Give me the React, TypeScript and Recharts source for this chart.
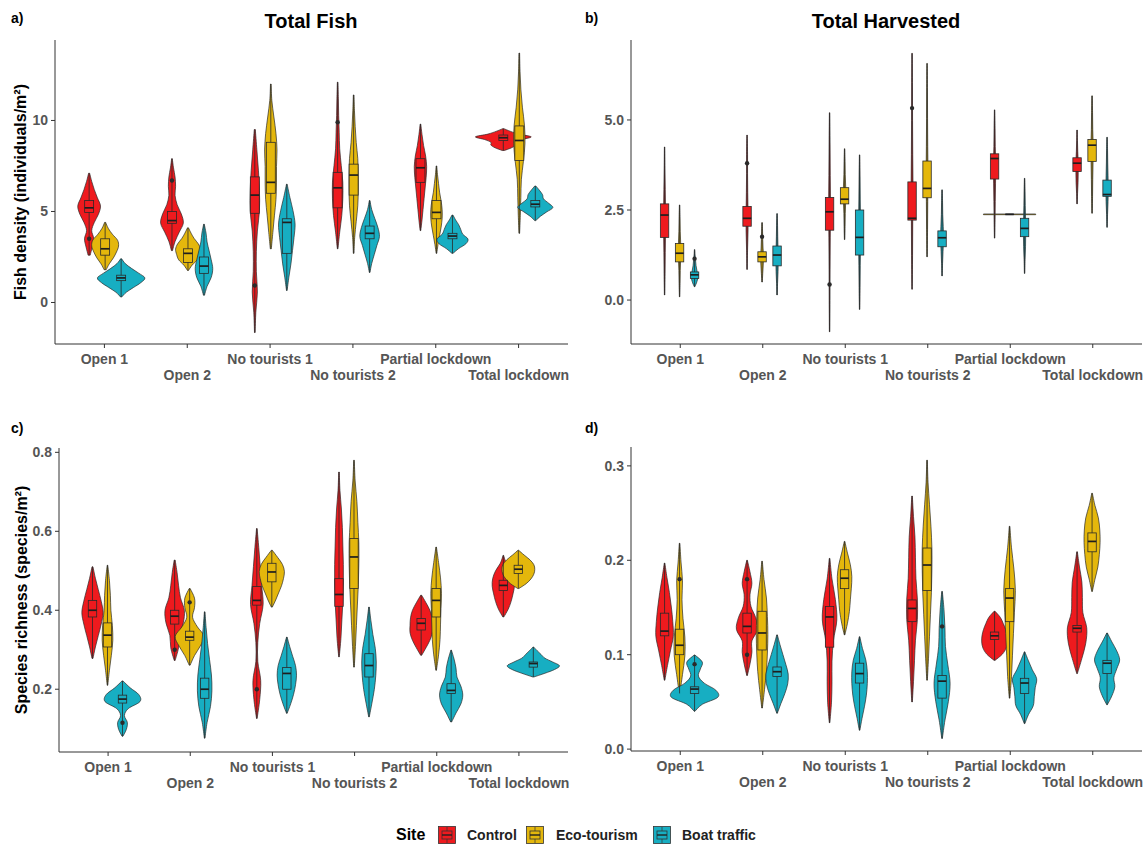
import React from "react";
import { BarChart, Bar, XAxis, YAxis } from "recharts";

type Violin = {
  lo: number;
  hi: number;
  q1: number;
  med: number;
  q3: number;
  out?: number[];
  dens: number[]; // violin half-widths, evenly spaced from lo to hi
};

const CATEGORIES = ["Open 1", "Open 2", "No tourists 1", "No tourists 2", "Partial lockdown", "Total lockdown"];
const SITES = ["Control", "Eco-tourism", "Boat traffic"];
const SITE_COLORS = ["#EE1A1E", "#E4B70C", "#17AEC2"];

// a) Total Fish
const fishControl: Violin[] = [
  { lo: 2.6, hi: 7.1, q1: 4.95, med: 5.2, q3: 5.6, out: [3.5], dens: [1, 3, 4.5, 2.5, 5, 9, 11, 8, 5, 2.5, 0.5] },
  { lo: 2.85, hi: 7.9, q1: 4.35, med: 4.5, q3: 5.0, out: [6.7], dens: [0.5, 3, 7, 11, 9, 5, 3, 3.5, 3, 1.5, 0.3] },
  { lo: -1.65, hi: 9.5, q1: 4.9, med: 5.9, q3: 6.9, out: [0.93], dens: [0.3, 1, 2.5, 1.5, 1.5, 2.5, 4.5, 4.5, 3.5, 2, 0.5] },
  { lo: 2.95, hi: 12.1, q1: 5.2, med: 6.3, q3: 7.15, out: [9.9], dens: [0.3, 2, 4, 5, 5, 3.5, 2, 1.5, 1, 0.7, 0.3] },
  { lo: 3.95, hi: 9.8, q1: 6.6, med: 7.4, q3: 7.9, dens: [0.3, 1.5, 2.5, 3.5, 4.5, 5.5, 6, 5, 3, 1.5, 0.3] },
  { lo: 8.35, hi: 9.55, q1: 8.9, med: 9.05, q3: 9.2, dens: [1, 8, 12, 12, 18, 27, 15, 7, 0.5] },
];
const fishEco: Violin[] = [
  { lo: 1.8, hi: 4.4, q1: 2.6, med: 2.95, q3: 3.5, dens: [1, 4, 8, 11, 13, 12, 7, 3, 0.5] },
  { lo: 1.76, hi: 4.1, q1: 2.2, med: 2.7, q3: 2.95, dens: [0.5, 4, 9, 11, 12, 10, 6, 3, 0.5] },
  { lo: 2.95, hi: 12.0, q1: 6.0, med: 6.6, q3: 8.8, dens: [0.5, 2, 3.5, 5, 5.5, 5.5, 6, 5, 3, 1, 0.3] },
  { lo: 2.7, hi: 11.4, q1: 5.9, med: 7.0, q3: 7.6, dens: [0.3, 1, 2.5, 4, 4.5, 4.5, 4, 2.5, 1.5, 0.8, 0.3] },
  { lo: 2.7, hi: 7.5, q1: 4.6, med: 4.95, q3: 5.6, dens: [0.3, 1.5, 3, 4.5, 5.5, 5.5, 4.5, 3, 2, 1, 0.3] },
  { lo: 3.8, hi: 13.7, q1: 7.8, med: 8.9, q3: 9.7, dens: [0.3, 1, 1.5, 2, 4, 5.5, 5, 3, 1.5, 0.7, 0.3] },
];
const fishBoat: Violin[] = [
  { lo: 0.3, hi: 2.4, q1: 1.2, med: 1.35, q3: 1.5, dens: [0.5, 5, 12, 19, 23, 17, 10, 4, 0.5] },
  { lo: 0.4, hi: 4.3, q1: 1.6, med: 2.0, q3: 2.5, dens: [0.5, 3, 7, 8.5, 7, 5, 3, 2, 0.3] },
  { lo: 0.66, hi: 6.5, q1: 2.7, med: 4.4, q3: 4.6, dens: [0.3, 2, 4, 5.5, 7, 8, 6, 3, 0.3] },
  { lo: 1.65, hi: 5.6, q1: 3.5, med: 3.8, q3: 4.2, dens: [0.3, 2, 4.5, 7, 9.5, 8, 5, 2, 0.3] },
  { lo: 2.7, hi: 4.8, q1: 3.5, med: 3.65, q3: 3.8, dens: [0.5, 6, 13, 15, 10, 8, 6, 3, 0.5] },
  { lo: 4.5, hi: 6.4, q1: 5.25, med: 5.4, q3: 5.6, dens: [0.5, 5, 11, 17, 13, 8, 7, 4, 0.5] },
];

// b) Total Harvested (violins nearly collapse to lines)
const harvControl: Violin[] = [
  { lo: 0.14, hi: 4.25, q1: 1.74, med: 2.36, q3: 2.67, dens: [0.2, 0.5, 0.7, 1, 1, 0.7, 0.4, 0.2] },
  { lo: 0.85, hi: 4.58, q1: 2.05, med: 2.27, q3: 2.6, out: [3.8], dens: [0.2, 0.5, 1, 1, 0.7, 0.5, 0.5, 0.2] },
  { lo: -0.88, hi: 5.2, q1: 1.94, med: 2.45, q3: 2.85, out: [0.43], dens: [0.2, 0.4, 0.5, 0.7, 1, 0.7, 0.5, 0.2] },
  { lo: 0.3, hi: 6.85, q1: 2.22, med: 2.27, q3: 3.28, out: [5.33], dens: [0.2, 0.5, 0.7, 1, 0.7, 0.5, 0.4, 0.2] },
  { lo: 1.72, hi: 5.28, q1: 3.36, med: 3.93, q3: 4.06, dens: [0.2, 0.5, 0.7, 1, 1.2, 0.7, 0.5, 0.2] },
  { lo: 2.67, hi: 4.72, q1: 3.57, med: 3.8, q3: 3.95, dens: [0.2, 0.5, 1, 1.2, 1.2, 0.7, 0.4, 0.2] },
];
const harvEco: Violin[] = [
  { lo: 0.09, hi: 2.64, q1: 1.06, med: 1.3, q3: 1.57, dens: [0.2, 0.5, 0.7, 1.2, 1.2, 0.7, 0.5, 0.2] },
  { lo: 0.5, hi: 2.15, q1: 1.06, med: 1.2, q3: 1.34, out: [1.76], dens: [0.2, 0.7, 1.2, 1.5, 1, 0.7, 0.5, 0.2] },
  { lo: 1.68, hi: 4.2, q1: 2.67, med: 2.8, q3: 3.12, dens: [0.2, 0.5, 0.7, 1.2, 1.2, 0.7, 0.5, 0.2] },
  { lo: 1.2, hi: 6.57, q1: 2.84, med: 3.1, q3: 3.86, dens: [0.2, 0.5, 0.7, 1, 0.7, 0.5, 0.4, 0.2] },
  { lo: 2.37, hi: 2.39, q1: 2.38, med: 2.38, q3: 2.38, dens: [27, 27] },
  { lo: 2.41, hi: 5.67, q1: 3.85, med: 4.3, q3: 4.46, dens: [0.2, 0.5, 0.7, 1, 1.2, 0.7, 0.5, 0.2] },
];
const harvBoat: Violin[] = [
  { lo: 0.37, hi: 1.4, q1: 0.6, med: 0.7, q3: 0.78, out: [1.15], dens: [0.3, 2.5, 3.5, 2.5, 1.5, 1, 0.5, 0.2] },
  { lo: 0.14, hi: 2.4, q1: 0.95, med: 1.25, q3: 1.5, dens: [0.2, 0.5, 1, 1.2, 1, 0.7, 0.5, 0.2] },
  { lo: -0.26, hi: 4.03, q1: 1.25, med: 1.74, q3: 2.5, dens: [0.2, 0.5, 0.7, 1, 1, 0.7, 0.5, 0.2] },
  { lo: 0.67, hi: 3.06, q1: 1.48, med: 1.73, q3: 1.92, dens: [0.2, 0.5, 1, 1.5, 1.2, 0.7, 0.5, 0.2] },
  { lo: 0.74, hi: 3.38, q1: 1.76, med: 1.99, q3: 2.27, dens: [0.2, 0.5, 1, 1.2, 1, 0.7, 0.5, 0.2] },
  { lo: 2.02, hi: 4.52, q1: 2.88, med: 2.93, q3: 3.33, dens: [0.2, 0.5, 1, 1.2, 1, 0.7, 0.5, 0.2] },
];

// c) Species richness, all fish
const richControl: Violin[] = [
  { lo: 0.278, hi: 0.51, q1: 0.383, med: 0.4, q3: 0.425, dens: [0.5, 3, 6, 9, 11, 9, 6, 3, 0.5] },
  { lo: 0.273, hi: 0.527, q1: 0.365, med: 0.385, q3: 0.4, out: [0.3], dens: [0.5, 4, 5, 9, 10, 6, 4, 2.5, 0.5] },
  { lo: 0.126, hi: 0.607, q1: 0.413, med: 0.425, q3: 0.46, out: [0.2], dens: [0.3, 3, 4, 1, 1, 3, 6.5, 5, 3.5, 2, 0.3] },
  { lo: 0.282, hi: 0.75, q1: 0.41, med: 0.44, q3: 0.48, dens: [0.3, 2, 3, 4, 4.5, 4.5, 4, 3.5, 2.5, 1, 0.3] },
  { lo: 0.286, hi: 0.438, q1: 0.35, med: 0.367, q3: 0.379, dens: [0.5, 5, 9, 11.5, 11.5, 11, 9, 5, 0.5] },
  { lo: 0.383, hi: 0.539, q1: 0.45, med: 0.463, q3: 0.476, dens: [0.5, 5, 8, 10, 11.5, 11, 8, 3, 0.3] },
];
const richEco: Violin[] = [
  { lo: 0.21, hi: 0.514, q1: 0.307, med: 0.337, q3: 0.368, dens: [0.3, 2, 4, 5.5, 5, 3.5, 3, 2, 0.3] },
  { lo: 0.261, hi: 0.455, q1: 0.324, med: 0.332, q3: 0.347, out: [0.42], dens: [0.5, 5, 11, 15, 8, 3, 5, 5, 0.5] },
  { lo: 0.408, hi: 0.552, q1: 0.472, med: 0.497, q3: 0.519, dens: [0.5, 4, 7, 10, 12, 13, 11, 6, 0.5] },
  { lo: 0.256, hi: 0.78, q1: 0.455, med: 0.535, q3: 0.582, dens: [0.3, 1.5, 2.5, 3.5, 4.5, 5, 5, 4, 3, 1.2, 0.3] },
  { lo: 0.248, hi: 0.56, q1: 0.383, med: 0.425, q3: 0.455, dens: [0.3, 2.5, 4, 4.5, 5, 5.5, 4.5, 2.5, 0.3] },
  { lo: 0.455, hi: 0.552, q1: 0.493, med: 0.504, q3: 0.514, dens: [0.5, 8, 13, 16, 17, 16, 12, 6, 0.3] },
];
const richBoat: Violin[] = [
  { lo: 0.081, hi: 0.221, q1: 0.165, med: 0.175, q3: 0.185, out: [0.115], dens: [0.5, 4, 5, 2, 6, 18, 17, 8, 0.5] },
  { lo: 0.076, hi: 0.396, q1: 0.177, med: 0.2, q3: 0.228, dens: [0.3, 2.5, 6, 7.5, 7, 5, 3, 1.5, 0.3] },
  { lo: 0.139, hi: 0.332, q1: 0.2, med: 0.24, q3: 0.255, dens: [0.3, 4, 7, 9, 10, 9, 6, 3, 0.3] },
  { lo: 0.13, hi: 0.408, q1: 0.231, med: 0.26, q3: 0.29, dens: [0.3, 3, 5.5, 7, 7.5, 6.5, 4, 2, 0.3] },
  { lo: 0.117, hi: 0.299, q1: 0.189, med: 0.197, q3: 0.214, dens: [0.5, 5, 10, 12, 10, 6, 5, 3, 0.3] },
  { lo: 0.231, hi: 0.307, q1: 0.256, med: 0.265, q3: 0.269, dens: [0.5, 12, 22, 27, 20, 12, 8, 4, 0.3] },
];

// d) Species richness, harvested
const hrichControl: Violin[] = [
  { lo: 0.073, hi: 0.197, q1: 0.12, med: 0.125, q3: 0.144, dens: [0.3, 3, 6, 9, 8.5, 7, 5, 2.5, 0.3] },
  { lo: 0.078, hi: 0.2, q1: 0.123, med: 0.13, q3: 0.144, out: [0.18, 0.1], dens: [0.3, 3, 5, 5, 11, 9, 4, 3, 5, 3, 0.3] },
  { lo: 0.028, hi: 0.202, q1: 0.108, med: 0.14, q3: 0.151, dens: [0.3, 2, 2.5, 2.5, 4, 7.5, 6, 2.5, 0.3] },
  { lo: 0.05, hi: 0.268, q1: 0.135, med: 0.149, q3: 0.158, dens: [0.3, 1.5, 2.5, 3.5, 5.5, 5.5, 4, 3.5, 3, 1.5, 0.3] },
  { lo: 0.094, hi: 0.146, q1: 0.116, med: 0.12, q3: 0.124, dens: [0.5, 8, 12, 13.3, 13, 11.5, 9, 6, 0.5] },
  { lo: 0.08, hi: 0.209, q1: 0.124, med: 0.128, q3: 0.131, dens: [0.3, 5, 9, 10, 6, 5.5, 5, 2.5, 0.3] },
];
const hrichEco: Violin[] = [
  { lo: 0.059, hi: 0.218, q1: 0.1, med: 0.11, q3: 0.127, out: [0.18], dens: [0.3, 3, 5.5, 5.5, 3.5, 2.5, 3, 1.5, 0.3] },
  { lo: 0.0435, hi: 0.199, q1: 0.105, med: 0.123, q3: 0.146, dens: [0.3, 2.5, 4.5, 5.5, 6, 5.5, 4.5, 2, 0.3] },
  { lo: 0.121, hi: 0.22, q1: 0.17, med: 0.181, q3: 0.19, dens: [0.3, 3, 5, 6, 7, 7.5, 6, 3, 0.3] },
  { lo: 0.073, hi: 0.306, q1: 0.168, med: 0.195, q3: 0.213, dens: [0.3, 1.5, 2.5, 3.5, 4.5, 5, 5, 4, 2.5, 1, 0.3] },
  { lo: 0.054, hi: 0.236, q1: 0.135, med: 0.16, q3: 0.17, dens: [0.3, 2, 3, 4, 5, 6, 4.5, 2, 0.3] },
  { lo: 0.167, hi: 0.271, q1: 0.209, med: 0.22, q3: 0.229, dens: [0.3, 3, 6, 7.5, 8.3, 8, 6.5, 3, 0.3] },
];
const hrichBoat: Violin[] = [
  { lo: 0.04, hi: 0.0997, q1: 0.059, med: 0.0636, q3: 0.066, out: [0.09], dens: [0.3, 8, 24, 22, 10, 4, 6, 8, 0.3] },
  { lo: 0.038, hi: 0.121, q1: 0.077, med: 0.082, q3: 0.087, dens: [0.3, 4, 8, 11, 11.5, 9, 6, 3, 0.3] },
  { lo: 0.02, hi: 0.119, q1: 0.07, med: 0.08, q3: 0.091, dens: [0.3, 2.5, 5, 7, 8, 8, 6.5, 3, 0.3] },
  { lo: 0.0113, hi: 0.167, q1: 0.054, med: 0.072, q3: 0.078, out: [0.13], dens: [0.3, 3, 6.5, 8.3, 6, 3.5, 3, 2, 0.3] },
  { lo: 0.027, hi: 0.103, q1: 0.059, med: 0.07, q3: 0.075, dens: [0.3, 4, 9, 10, 11, 12.5, 8, 4, 0.3] },
  { lo: 0.047, hi: 0.123, q1: 0.08, med: 0.091, q3: 0.094, dens: [0.3, 5, 8, 7, 10, 13, 10, 5, 0.3] },
];

const FONT = "'Liberation Sans', Arial, Helvetica, sans-serif";
const AXIS_COLOR = "#333";
const TICK_COLOR = "#555";
const DENS_REF = 15.5; // density half-widths are in px for a 15.5px dodge step

const PANELS = [
  { id: "a", series: [fishControl, fishEco, fishBoat], domain: [-2.28, 14.42], ticks: [0, 5, 10], digits: 0, left: 0, top: 0, x0: 55, x1: 568, y0: 40, y1: 344 },
  { id: "b", series: [harvControl, harvEco, harvBoat], domain: [-1.22, 7.22], ticks: [0, 2.5, 5], digits: 1, left: 575, top: 0, x0: 631, x1: 1142, y0: 40, y1: 344 },
  { id: "c", series: [richControl, richEco, richBoat], domain: [0.041, 0.811], ticks: [0.2, 0.4, 0.6, 0.8], digits: 1, left: 0, top: 400, x0: 59, x1: 568, y0: 448, y1: 752 },
  { id: "d", series: [hrichControl, hrichEco, hrichBoat], domain: [-0.002, 0.32], ticks: [0, 0.1, 0.2, 0.3], digits: 1, left: 575, top: 400, x0: 631, x1: 1142, y0: 447, y1: 751 },
];

function curveThrough(pts: number[][]): string {
  let d = "";
  for (let i = 0; i < pts.length - 1; i++) {
    const p0 = pts[Math.max(i - 1, 0)];
    const p1 = pts[i];
    const p2 = pts[i + 1];
    const p3 = pts[Math.min(i + 2, pts.length - 1)];
    const c1x = p1[0] + (p2[0] - p0[0]) / 6;
    const c1y = p1[1] + (p2[1] - p0[1]) / 6;
    const c2x = p2[0] - (p3[0] - p1[0]) / 6;
    const c2y = p2[1] - (p3[1] - p1[1]) / 6;
    d += ` C${c1x},${c1y} ${c2x},${c2y} ${p2[0]},${p2[1]}`;
  }
  return d;
}

// maps a value inside the bar's [lo, hi] range onto the pixel span the y scale gave the bar
function valueToY(props: any, v: Violin) {
  const top = Math.min(props.y, props.y + props.height);
  const bottom = Math.max(props.y, props.y + props.height);
  return (val: number) => (v.hi === v.lo ? top : bottom - ((val - v.lo) / (v.hi - v.lo)) * (bottom - top));
}

function pickViolin(props: any, stats: Violin[]): Violin | undefined {
  const i = CATEGORIES.indexOf(props.payload?.cat);
  return stats[i >= 0 ? i : props.index];
}

function violinShape(stats: Violin[], color: string) {
  return (props: any) => {
    const v = pickViolin(props, stats);
    if (!v) return <g />;
    const yOf = valueToY(props, v);
    const cx = props.x + props.width / 2;
    const k = props.width / DENS_REF;
    const n = v.dens.length;
    const levels = v.dens.map((h, j) => ({ y: yOf(v.lo + (j * (v.hi - v.lo)) / (n - 1)), h: h * k }));
    const right = levels.slice().reverse().map((p) => [cx + p.h, p.y]);
    const left = levels.map((p) => [cx - p.h, p.y]);
    const d = `M${right[0][0]},${right[0][1]}` + curveThrough(right) + ` L${left[0][0]},${left[0][1]}` + curveThrough(left) + " Z";
    return <path d={d} fill={color} stroke="#2a2a2a" strokeWidth={0.7} strokeLinejoin="round" />;
  };
}

function boxShape(stats: Violin[], color: string) {
  return (props: any) => {
    const v = pickViolin(props, stats);
    if (!v) return <g />;
    const yOf = valueToY(props, v);
    const cx = props.x + props.width / 2;
    const bw = props.width * 0.56;
    const yq3 = yOf(v.q3);
    const yq1 = yOf(v.q1);
    return (
      <g>
        <line x1={cx} x2={cx} y1={yOf(v.hi)} y2={yOf(v.lo)} stroke="#2a2a2a" strokeWidth={0.8} />
        <rect x={cx - bw / 2} y={yq3} width={bw} height={Math.max(yq1 - yq3, 0.1)} fill={color} stroke="#2a2a2a" strokeWidth={0.8} />
        <line x1={cx - bw / 2} x2={cx + bw / 2} y1={yOf(v.med)} y2={yOf(v.med)} stroke="#1e1e1e" strokeWidth={1.7} />
        {(v.out ?? []).map((o, j) => (
          <circle key={j} cx={cx} cy={yOf(o)} r={2.2} fill="#2a2a2a" />
        ))}
      </g>
    );
  };
}

function StaggerTick(props: any) {
  const { x, y, payload } = props;
  const idx = payload?.index ?? props.index ?? 0;
  return (
    <text
      x={x}
      y={y + (idx % 2 ? 27 : 11)}
      textAnchor="middle"
      dominantBaseline="central"
      fill={TICK_COLOR}
      fontSize={14}
      fontWeight="bold"
      fontFamily={FONT}
    >
      {payload.value}
    </text>
  );
}

function Panel({ cfg }: { cfg: (typeof PANELS)[number] }) {
  const data = CATEGORIES.map((cat, i) => {
    const row: Record<string, unknown> = { cat };
    SITES.forEach((s, si) => {
      const v = cfg.series[si][i];
      row[s] = [v.lo, v.hi];
    });
    return row;
  });
  const width = cfg.x1 + 6 - cfg.left;
  const height = cfg.y1 + 56 - cfg.top;
  const xAxisCommon = {
    dataKey: "cat",
    type: "category" as const,
    interval: 0,
    padding: { left: 8, right: 8 },
  };
  return (
    <div style={{ position: "absolute", left: cfg.left, top: cfg.top }}>
      <BarChart
        width={width}
        height={height}
        data={data}
        margin={{ top: cfg.y0 - cfg.top, right: 6, left: 0, bottom: 0 }}
        barCategoryGap="21.9%"
        barGap={0}
      >
        <XAxis
          {...xAxisCommon}
          height={56}
          axisLine={{ stroke: AXIS_COLOR, strokeWidth: 1 }}
          tickLine={{ stroke: AXIS_COLOR, strokeWidth: 1 }}
          tickSize={4}
          tickMargin={0}
          tick={<StaggerTick />}
        />
        <XAxis {...xAxisCommon} xAxisId="box" hide />
        <YAxis
          type="number"
          domain={cfg.domain}
          ticks={cfg.ticks}
          allowDataOverflow
          width={cfg.x0 - cfg.left}
          axisLine={{ stroke: AXIS_COLOR, strokeWidth: 1 }}
          tickLine={{ stroke: AXIS_COLOR, strokeWidth: 1 }}
          tickSize={4}
          tickMargin={3}
          tickFormatter={(t: number) => t.toFixed(cfg.digits)}
          tick={{ fill: TICK_COLOR, fontSize: 14, fontWeight: "bold", fontFamily: FONT }}
        />
        {SITES.map((s, si) => (
          <Bar key={s} dataKey={s} isAnimationActive={false} shape={violinShape(cfg.series[si], SITE_COLORS[si])} />
        ))}
        {SITES.map((s, si) => (
          <Bar
            key={s + "-box"}
            dataKey={s}
            xAxisId="box"
            isAnimationActive={false}
            shape={boxShape(cfg.series[si], SITE_COLORS[si])}
          />
        ))}
      </BarChart>
    </div>
  );
}

function LegendKey({ color }: { color: string }) {
  return (
    <svg width={18} height={18} style={{ display: "block" }}>
      <rect x={0.5} y={0.5} width={17} height={17} fill={color} stroke="#333" strokeWidth={0.8} />
      <line x1={9} x2={9} y1={1} y2={17} stroke="#333" strokeWidth={0.7} />
      <rect x={4} y={5} width={10} height={8} fill={color} stroke="#333" strokeWidth={0.8} />
      <line x1={4} x2={14} y1={9} y2={9} stroke="#222" strokeWidth={1.4} />
    </svg>
  );
}

const abs = (left: number, top: number, extra: React.CSSProperties = {}): React.CSSProperties => ({
  position: "absolute",
  left,
  top,
  fontFamily: FONT,
  fontWeight: "bold",
  whiteSpace: "nowrap",
  lineHeight: 1,
  ...extra,
});

export default function App() {
  const legendX = [438, 526, 653];
  const legendLabelX = [467, 556, 682];
  return (
    <div style={{ position: "relative", width: 1148, height: 848, background: "#fff", overflow: "hidden" }}>
      <style>{"body{margin:0}"}</style>
      {PANELS.map((p) => (
        <Panel key={p.id} cfg={p} />
      ))}

      <div style={abs(11, 11, { fontSize: 14, color: "#000" })}>a)</div>
      <div style={abs(585, 11, { fontSize: 14, color: "#000" })}>b)</div>
      <div style={abs(11, 421, { fontSize: 14, color: "#000" })}>c)</div>
      <div style={abs(585, 421, { fontSize: 14, color: "#000" })}>d)</div>

      <div style={abs(311, 11, { fontSize: 20, color: "#000", transform: "translateX(-50%)" })}>Total Fish</div>
      <div style={abs(886, 11, { fontSize: 20, color: "#000", transform: "translateX(-50%)" })}>Total Harvested</div>

      <div style={abs(21, 192, { fontSize: 16, color: "#000", transform: "translate(-50%, -50%) rotate(-90deg)" })}>
        Fish density (individuals/m²)
      </div>
      <div style={abs(22, 600, { fontSize: 16, color: "#000", transform: "translate(-50%, -50%) rotate(-90deg)" })}>
        Species richness (species/m²)
      </div>

      <div style={abs(396, 827, { fontSize: 16, color: "#000" })}>Site</div>
      {SITES.map((s, i) => (
        <React.Fragment key={s}>
          <div style={{ position: "absolute", left: legendX[i], top: 826 }}>
            <LegendKey color={SITE_COLORS[i]} />
          </div>
          <div style={abs(legendLabelX[i], 828, { fontSize: 14, color: "#222" })}>{s}</div>
        </React.Fragment>
      ))}
    </div>
  );
}
